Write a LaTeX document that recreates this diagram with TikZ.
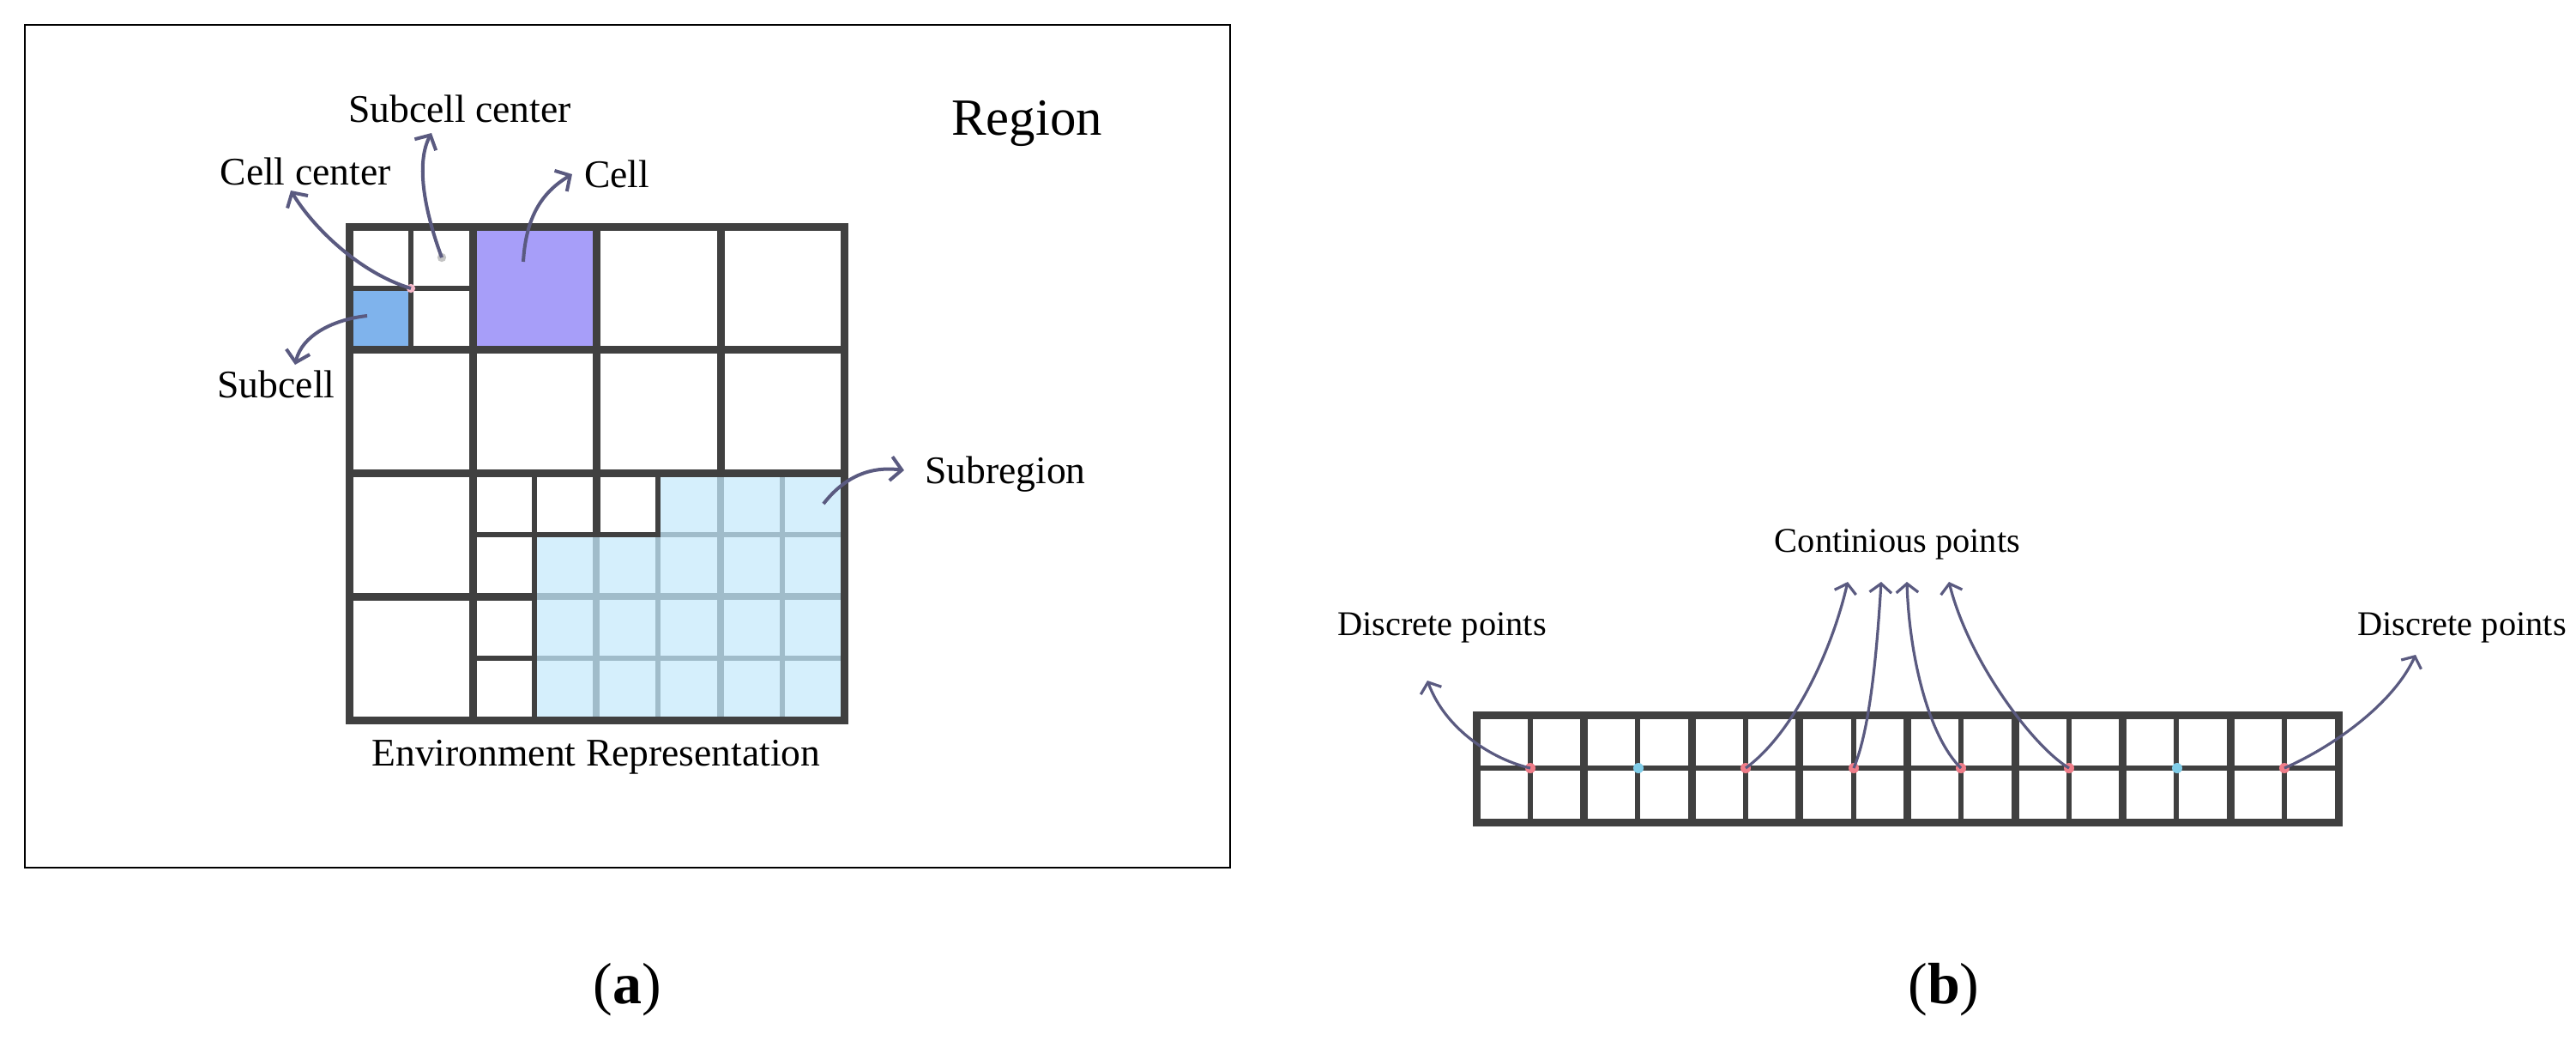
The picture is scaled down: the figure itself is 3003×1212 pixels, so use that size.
\documentclass[tikz,border=0pt]{standalone}
\usepackage{fontspec}
\setmainfont{Liberation Serif}
\usetikzlibrary{arrows.meta}
\definecolor{darkline}{HTML}{404040}
\definecolor{lightline}{HTML}{A0BCCA}
\definecolor{subfill}{HTML}{D5EFFC}
\definecolor{cellfill}{HTML}{A79EF9}
\definecolor{subcellfill}{HTML}{7FB3EC}
\definecolor{arrowc}{RGB}{90,90,128}
\definecolor{reddot}{HTML}{F07D89}
\definecolor{bluedot}{HTML}{80CDE8}
\definecolor{pinkdot}{HTML}{F5B8C8}
\definecolor{graydot}{HTML}{C4C4C4}
\begin{document}
\begin{tikzpicture}[x=0.25pt,y=-0.25pt,
  thickln/.style={draw=darkline,line width=2.25pt},
  thinln/.style={draw=darkline,line width=1.5pt},
  lthick/.style={draw=lightline,line width=2.1pt},
  lthin/.style={draw=lightline,line width=1.5pt},
  arra/.style={draw=arrowc,line width=1pt,-{Straight Barb[length=3.2pt,width=7pt]}},
  arrb/.style={draw=arrowc,line width=0.8pt,-{Straight Barb[length=2.6pt,width=6.4pt]}},
  laba/.style={font=\fontsize{11.4}{13}\selectfont,anchor=base,inner sep=0pt},
  labb/.style={font=\fontsize{10.1}{12}\selectfont,anchor=base,inner sep=0pt},
  labr/.style={font=\fontsize{15.2}{17}\selectfont,anchor=base,inner sep=0pt},
  labp/.style={font=\fontsize{17}{19}\selectfont,anchor=base,inner sep=0pt}]
\useasboundingbox (0,0) rectangle (3003,1212);
% ---------- panel (a) ----------
\draw[black,line width=0.6pt] (29,29) rectangle (1434,1011);
% fills
\fill[subcellfill] (407,336) rectangle (479,407);
\fill[cellfill] (551,264) rectangle (695,407);
\fill[subfill] (623,623) -- (767,623) -- (767,551) -- (984,551) -- (984,839) -- (623,839) -- cycle;
% light lines inside subregion
\draw[lthin] (767,623) -- (767,839);
\draw[lthin] (912,551) -- (912,839);
\draw[lthin] (767,623) -- (984,623);
\draw[lthin] (623,767) -- (984,767);
\draw[lthick] (695,623) -- (695,839);
\draw[lthick] (840,551) -- (840,839);
\draw[lthick] (623,695) -- (984,695);
% thin dark lines
\draw[thinln] (479,264) -- (479,407);
\draw[thinln] (407,336) -- (551,336);
\draw[thinln] (623,551) -- (623,839);
\draw[thinln] (551,623) -- (767,623) -- (767,551);
\draw[thinln] (551,767) -- (623,767);
% thick dark lines
\draw[thickln] (407,407) -- (984,407);
\draw[thickln] (407,551) -- (984,551);
\draw[thickln] (407,695) -- (623,695);
\draw[thickln] (551,264) -- (551,839);
\draw[thickln] (695,264) -- (695,623);
\draw[thickln] (840,264) -- (840,551);
\draw[thickln] (407,264) rectangle (984,839);
% points
\coordinate (cc) at (479,336);
\coordinate (sc) at (515,300);
\coordinate (cl) at (610,305);
\coordinate (sb) at (428,368);
\coordinate (sr) at (960,587);
\fill[pinkdot] (cc) circle (1.3pt);
\fill[graydot] (sc) circle (1.3pt);
% labels
\node[laba] (lsc) at (536,142) {Subcell center};
\node[laba] (lcc) at (356,215) {Cell center};
\node[laba] (lcl) at (719,218) {Cell};
\node[laba] (lsb) at (322,463) {Subcell};
\node[laba] (lsr) at (1172,563) {Subregion};
\node[laba] (lenv) at (695,892) {Environment Representation};
\node[labr] (lreg) at (1197,157) {Region};
\node[labp] (la) at (731,1169) {(\textbf{a})};
% arrow ends
\coordinate (tcc) at (339,222);
\coordinate (tsc) at (503,155);
\coordinate (tcl) at (667,203);
\coordinate (tsb) at (344,425);
\coordinate (tsr) at (1054,548);
\draw[arra] (cc) .. controls (419,318) and (365,265) .. (tcc);
\draw[arra] (sc) .. controls (500,260) and (482,195) .. (tsc);
\draw[arra] (cl) .. controls (613,255) and (630,225) .. (tcl);
\draw[arra] (sb) .. controls (390,372) and (352,390) .. (tsb);
\draw[arra] (sr) .. controls (985,555) and (1015,543) .. (tsr);
% ---------- panel (b) ----------
\foreach \i in {0,...,7}{
  \draw[thinln] ({1721+125.6*\i+62.8},833) -- ({1721+125.6*\i+62.8},958);
}
\draw[thinln] (1721,895) -- (2726,895);
\foreach \i in {1,...,7}{
  \draw[thickln] ({1721+125.6*\i},833) -- ({1721+125.6*\i},958);
}
\draw[thickln] (1721,833) rectangle (2726,958);
\coordinate (p0) at (1784,895);
\coordinate (p1) at (1910,895);
\coordinate (p2) at (2035,895);
\coordinate (p3) at (2161,895);
\coordinate (p4) at (2286,895);
\coordinate (p5) at (2412,895);
\coordinate (p6) at (2538,895);
\coordinate (p7) at (2663,895);
\foreach \p in {p0,p2,p3,p4,p5,p7}{\fill[reddot] (\p) circle (1.5pt);}
\foreach \p in {p1,p6}{\fill[bluedot] (\p) circle (1.5pt);}
\node[labb] (lcp) at (2212,643) {Continious points};
\node[labb] (ldl) at (1681,740) {Discrete points};
\node[labb] (ldr) at (2870,740) {Discrete points};
\node[labp] (lb) at (2266,1169) {(\textbf{b})};
\coordinate (t0) at (1664,793);
\coordinate (t2) at (2154,678);
\coordinate (t3) at (2193,678);
\coordinate (t4) at (2223,678);
\coordinate (t5) at (2272,678);
\coordinate (t7) at (2816,763);
\draw[arrb] (p0) .. controls (1740,885) and (1685,850) .. (t0);
\draw[arrb] (p2) .. controls (2090,855) and (2135,760) .. (t2);
\draw[arrb] (p3) .. controls (2180,850) and (2188,760) .. (t3);
\draw[arrb] (p4) .. controls (2250,860) and (2226,770) .. (t4);
\draw[arrb] (p5) .. controls (2370,870) and (2295,770) .. (t5);
\draw[arrb] (p7) .. controls (2720,870) and (2790,820) .. (t7);
\end{tikzpicture}
\end{document}
